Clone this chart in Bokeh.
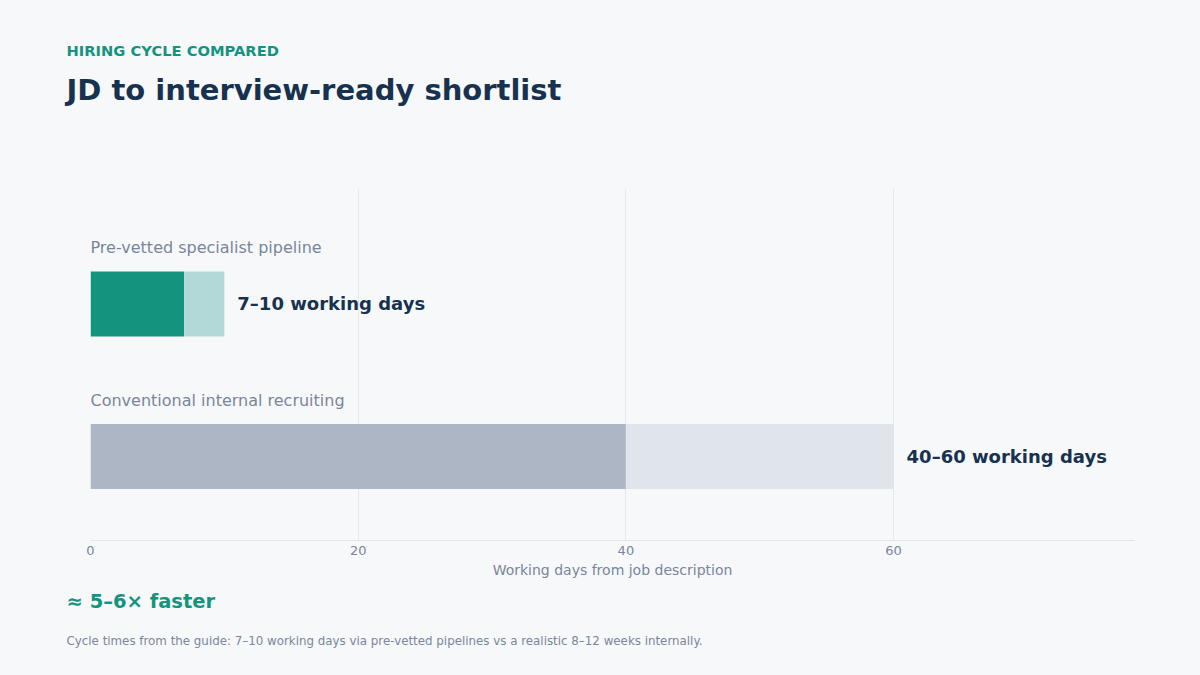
from bokeh.plotting import figure
from bokeh.layouts import column
from bokeh.models import Range1d, Label, ColumnDataSource, FixedTicker, Plot
from bokeh.embed import file_html
from bokeh.resources import INLINE
from bokeh.core.properties import value

# ---- data ----
categories = ["Pre-vetted specialist pipeline", "Conventional internal recruiting"]
low_days = [7, 40]
high_days = [10, 60]
value_labels = ["7–10 working days", "40–60 working days"]
x_ticks = [0, 20, 40, 60]

eyebrow = "HIRING CYCLE COMPARED"
title = "JD to interview-ready shortlist"
callout = "≈ 5–6× faster"
footnote = "Cycle times from the guide: 7–10 working days via pre-vetted pipelines vs a realistic 8–12 weeks internally."
x_label = "Working days from job description"

BG = "#f7f8fa"
NAVY = "#17324f"
TEAL = "#14937f"
GREY_TXT = "#7a869a"
FONT = "DejaVu Sans"
W = 1200

HAS_FA = "frame_align" in Plot.properties()

ypos = [1, 0]
solid_colors = ["#14937f", "#adb6c5"]
light_colors = ["#b2d9d8", "#e0e4eb"]


def text_panel(height):
    kw = dict(frame_align=False) if HAS_FA else {}
    x0, x1 = (0, W) if HAS_FA else (90, 1134)
    f = figure(width=W, height=height, output_backend="svg", toolbar_location=None,
               x_range=Range1d(x0, x1), y_range=Range1d(height, 0),
               x_axis_location=None, y_axis_location=None, min_border=0, **kw)
    f.background_fill_color = BG
    f.border_fill_color = BG
    f.outline_line_color = None
    f.xgrid.visible = False
    f.ygrid.visible = False
    return f


def add_label(f, txt, x, y, size, color, bold):
    f.add_layout(Label(x=x, y=y, text=txt, text_font=FONT, text_font_size=size,
                       text_color=color, text_font_style="bold" if bold else "normal",
                       text_baseline="alphabetic", text_align="left"))


# header (page y 0..170)
head = text_panel(170)
add_label(head, eyebrow, 66, 50, "14.7px", TEAL, True)
add_label(head, title, 66, 89, "29px", NAVY, True)

# main chart (page y 170..580), frame x 90..1134, y 188..540
src = ColumnDataSource(dict(
    y=ypos, low=low_days, high=high_days, cat=categories, lab=value_labels,
    zero=[0] * len(ypos), solid=solid_colors, light=light_colors,
))

main_kw = dict(frame_align=False) if HAS_FA else {}
p = figure(width=W, height=410, output_backend="svg", toolbar_location=None,
           x_range=Range1d(0, 78), y_range=Range1d(-0.551, 1.757),
           min_border_left=90, min_border_right=66, min_border_top=18,
           min_border_bottom=40, **main_kw)
p.background_fill_color = BG
p.border_fill_color = BG
p.outline_line_color = None

p.hbar(y="y", left="zero", right="low", height=0.426, fill_color="solid",
       line_color=None, source=src)
p.hbar(y="y", left="low", right="high", height=0.426, fill_color="light",
       line_color=None, source=src)

p.text(x="zero", y="y", text="cat", source=src, y_offset=-56,
       text_font=value(FONT), text_font_size="16px", text_color=GREY_TXT,
       text_baseline="alphabetic", text_align="left")
p.text(x="high", y="y", text="lab", source=src, x_offset=13,
       text_font=value(FONT), text_font_size="18px", text_font_style="bold",
       text_color=NAVY, text_baseline="middle", text_align="left")

p.yaxis.visible = False
p.ygrid.visible = False
p.xgrid.grid_line_color = "#e5e8ee"
p.xgrid.ticker = FixedTicker(ticks=x_ticks)
xa = p.xaxis[0]
xa.ticker = FixedTicker(ticks=x_ticks)
xa.axis_line_color = "#e2e5ec"
xa.major_tick_line_color = None
xa.minor_tick_line_color = None
xa.major_tick_in = 0
xa.major_tick_out = 0
xa.minor_tick_in = 0
xa.minor_tick_out = 0
xa.major_label_text_color = GREY_TXT
xa.major_label_text_font = FONT
xa.major_label_text_font_size = "13px"
xa.major_label_standoff = 5
xa.axis_label = x_label
xa.axis_label_text_color = GREY_TXT
xa.axis_label_text_font = FONT
xa.axis_label_text_font_size = "14px"
xa.axis_label_text_font_style = "normal"
xa.axis_label_standoff = 4

# footer (page y 580..675)
foot = text_panel(95)
add_label(foot, callout, 66, 21, "19.5px", TEAL, True)
add_label(foot, footnote, 66, 60, "11.85px", GREY_TXT, False)

layout = column(head, p, foot, spacing=0)
html = file_html(layout, INLINE)
html = html.replace("</head>", "<style>html, body { background: %s; }</style></head>" % BG, 1)
open("out.html", "w").write(html)
